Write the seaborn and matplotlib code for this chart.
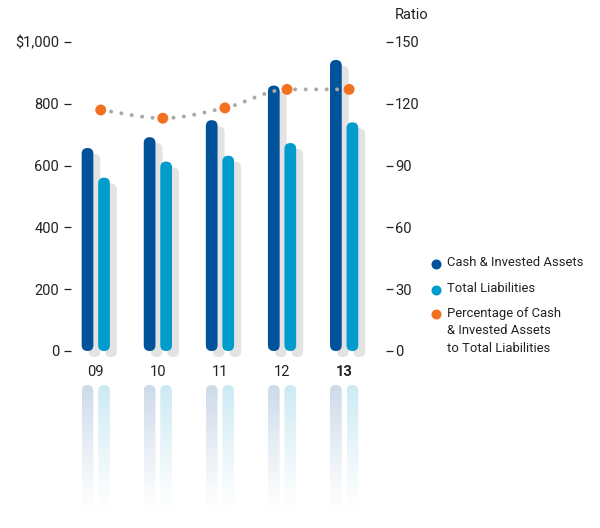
import numpy as np
import pandas as pd
import matplotlib
matplotlib.use("Agg")
import matplotlib.pyplot as plt
import seaborn as sns
from matplotlib.patches import FancyBboxPatch
from matplotlib.transforms import ScaledTranslation
from matplotlib.lines import Line2D

# ---- data -------------------------------------------------------------
years = ["09", "10", "11", "12", "13"]
cash_invested = [657, 692, 747, 859, 942]          # $ millions
total_liabilities = [561, 613, 632, 673, 740]      # $ millions
coverage_ratio = [117, 113, 118, 127, 127]         # percent
left_ticks = [0, 200, 400, 600, 800, 1000]
left_tick_labels = ["0", "200", "400", "600", "800", "$1,000"]
right_ticks = [0, 30, 60, 90, 120, 150]
series_names = ["Cash & Invested Assets", "Total Liabilities"]
ratio_name = "Percentage of Cash\n& Invested Assets\nto Total Liabilities"

# ---- style ------------------------------------------------------------
DARK = "#00539b"
LIGHT = "#009ccc"
ORANGE = "#f37021"
SHADOW = "#e3e3e3"
DOTS = "#a9a9a9"
INK = "#222222"
REFLECT = {DARK: (0.80, 0.855, 0.915), LIGHT: (0.80, 0.92, 0.955)}

sns.set_theme(style="white")
plt.rcParams["font.family"] = ["Roboto", "DejaVu Sans"]
plt.rcParams["text.color"] = INK

W, H = 600, 528
fig = plt.figure(figsize=(W / 100, H / 100), dpi=100)


def frac(x0, y0, x1, y1):
    """Pixel box (top-left origin) -> figure fraction rect."""
    return [x0 / W, 1 - y1 / H, (x1 - x0) / W, (y1 - y0) / H]


XLIM = (-0.399, 4.674)

# ---- bars -------------------------------------------------------------
ax = fig.add_axes(frac(71, 42, 386, 351))
df = pd.DataFrame({
    "year": years * 2,
    "value": cash_invested + total_liabilities,
    "series": [series_names[0]] * len(years) + [series_names[1]] * len(years),
})
sns.barplot(data=df, x="year", y="value", hue="series",
            palette=[DARK, LIGHT], width=0.532, gap=0.29,
            errorbar=None, saturation=1, legend=False, ax=ax)
ax.set_xlim(*XLIM)
ax.set_ylim(0, 1000)
ax.set_xlabel("")
ax.set_ylabel("")

p0 = ax.transData.transform((0, 0))
p1 = ax.transData.transform((1, 1))
aspect = (p1[0] - p0[0]) / (p1[1] - p0[1])
shadow_tr = ax.transData + ScaledTranslation(7 / 100, -6 / 100, fig.dpi_scale_trans)

bar_geom = []
for bar in list(ax.patches):
    x, y = bar.get_x(), bar.get_y()
    w, h = bar.get_width(), bar.get_height()
    color = matplotlib.colors.to_hex(bar.get_facecolor())
    bar.remove()
    bar_geom.append((x, w, color))
    style = f"round,pad=0,rounding_size={w / 2}"
    ax.add_patch(FancyBboxPatch((x, y), w, h, boxstyle=style, mutation_aspect=aspect,
                                facecolor=SHADOW, edgecolor="none", transform=shadow_tr,
                                clip_on=False, zorder=1))
    ax.add_patch(FancyBboxPatch((x, y), w, h, boxstyle=style, mutation_aspect=aspect,
                                facecolor=color, edgecolor="none", clip_on=False, zorder=2))
ax.set_xlim(*XLIM)
ax.set_ylim(0, 1000)

for s in ax.spines.values():
    s.set_visible(False)
ax.set_yticks(left_ticks)
ax.set_yticklabels(left_tick_labels)
ax.tick_params(axis="y", left=True, direction="out", length=5, width=0.9,
               color=INK, pad=3.5, labelsize=10.5, labelcolor=INK)
ax.set_xticks(range(len(years)))
ax.set_xticklabels(years)
ax.tick_params(axis="x", length=0, pad=10, labelsize=10.5, labelcolor=INK)
ax.get_xticklabels()[-1].set_fontweight("bold")

# ---- ratio on secondary axis -----------------------------------------
ax_r = ax.twinx()
ax_r.set_ylim(0, 150)
ax_r.set_xlim(*XLIM)
for s in ax_r.spines.values():
    s.set_visible(False)
ax_r.set_yticks(right_ticks)
ax_r.tick_params(axis="y", right=True, direction="out", length=5, width=0.9,
                 color=INK, pad=1.5, labelsize=10.5, labelcolor=INK)
ax_r.grid(False)

xr = np.arange(len(years)) + 0.08
yr = np.asarray(coverage_ratio, dtype=float)


def pchip_curve(xk, yk, n=40):
    """Monotone cubic (Fritsch-Carlson) path through the given points."""
    hk = np.diff(xk)
    dk = np.diff(yk) / hk
    m = np.zeros_like(yk)
    m[0], m[-1] = dk[0], dk[-1]
    for i in range(1, len(xk) - 1):
        if dk[i - 1] * dk[i] > 0:
            w1 = 2 * hk[i] + hk[i - 1]
            w2 = hk[i] + 2 * hk[i - 1]
            m[i] = (w1 + w2) / (w1 / dk[i - 1] + w2 / dk[i])
    xs, ys = [], []
    for i in range(len(xk) - 1):
        t = np.linspace(0, 1, n, endpoint=False)
        h00 = 2 * t**3 - 3 * t**2 + 1
        h10 = t**3 - 2 * t**2 + t
        h01 = -2 * t**3 + 3 * t**2
        h11 = t**3 - t**2
        xs.append(xk[i] + t * hk[i])
        ys.append(h00 * yk[i] + h10 * hk[i] * m[i] + h01 * yk[i + 1] + h11 * hk[i] * m[i + 1])
    xs.append([xk[-1]])
    ys.append([yk[-1]])
    return np.concatenate(xs), np.concatenate(ys)


cx, cy = pchip_curve(xr, yr)
ax_r.plot(cx, cy, color=DOTS, lw=2.9, linestyle=(0, (0.001, 2.6)),
          dash_capstyle="round", solid_capstyle="round", zorder=3)
sns.scatterplot(x=xr, y=yr, ax=ax_r, color=ORANGE, s=62, edgecolor="none",
                zorder=4, clip_on=False, legend=False)
ax_r.set_ylim(0, 150)
ax_r.set_xlim(*XLIM)

fig.text(395 / W, 1 - 15 / H, "Ratio", ha="left", va="center", fontsize=10.5)

# ---- fading reflections ----------------------------------------------
ax_ref = fig.add_axes(frac(71, 385, 386, 515))
ax_ref.set_axis_off()
ax_ref.set_xlim(*XLIM)
ax_ref.set_ylim(0, 1)
q0 = ax_ref.transData.transform((0, 0))
q1 = ax_ref.transData.transform((1, 1))
aspect_ref = (q1[0] - q0[0]) / (q1[1] - q0[1])
n = 256
ramp = np.linspace(0, 1, n)[:, None]
for x, w, color in bar_geom:
    rgba = np.zeros((n, 1, 4))
    rgba[..., :3] = REFLECT[color]
    rgba[..., 3] = ramp ** 1.2
    im = ax_ref.imshow(rgba, extent=(x, x + w, 0, 1), origin="lower",
                       aspect="auto", interpolation="bilinear")
    clip = FancyBboxPatch((x, -1), w, 2, boxstyle=f"round,pad=0,rounding_size={w / 2}",
                          mutation_aspect=aspect_ref, transform=ax_ref.transData,
                          facecolor="none", edgecolor="none")
    im.set_clip_path(clip)
ax_ref.set_xlim(*XLIM)
ax_ref.set_ylim(0, 1)

# ---- legend -----------------------------------------------------------
legend_rows = [(264, DARK, series_names[0]),
               (290, LIGHT, series_names[1]),
               (314, ORANGE, ratio_name)]
for yc, col, label in legend_rows:
    fig.add_artist(Line2D([435.5 / W], [1 - yc / H], marker="o", markersize=6.2,
                          color=col, linestyle="none", transform=fig.transFigure))
    fig.text(447 / W, 1 - (yc - 7.5) / H, label, ha="left", va="top",
             fontsize=9.4, linespacing=1.45)

fig.savefig("out.png", dpi=100, facecolor="white")
